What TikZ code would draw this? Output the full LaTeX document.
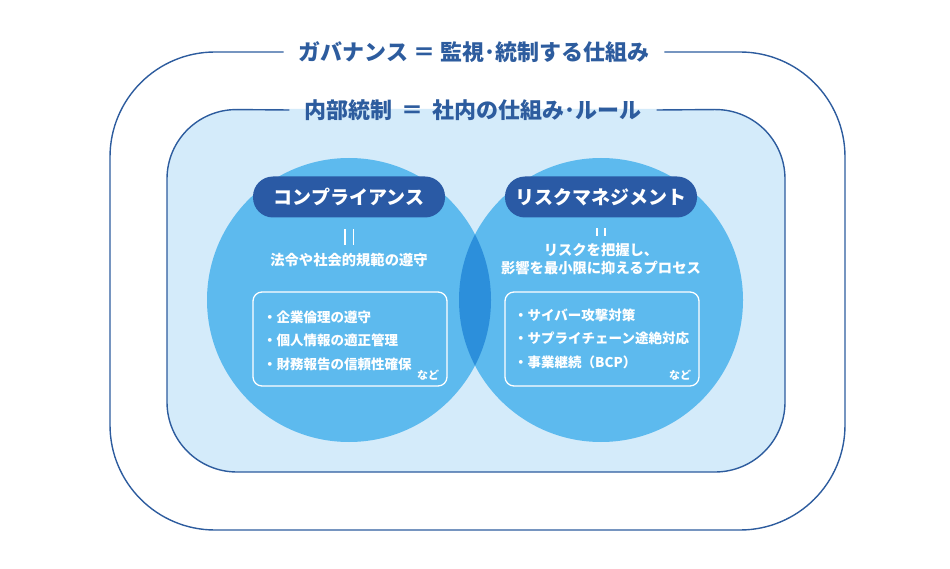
\documentclass[tikz,border=0pt]{standalone}
\usepackage{fontspec}
\setmainfont{Noto Sans CJK JP}
\usetikzlibrary{positioning}

\definecolor{lineblue}{HTML}{2D5C9E}
\definecolor{pillblue}{HTML}{2A5AA5}
\definecolor{ringblue}{HTML}{5DBAEE}
\definecolor{lensblue}{HTML}{2C8FDB}
\definecolor{paleblue}{HTML}{D4EBFA}

% vertical "equals" made of two bars
\newcommand{\vbars}[2]{\rule{1.6pt}{#1}\hspace{#2}\rule{1.6pt}{#1}}

\begin{document}
\begin{tikzpicture}[x=1pt,y=-1pt,
  frame/.style={draw=lineblue,line width=1.4pt},
  heading/.style={text=lineblue,inner sep=0pt,font=\fontsize{22}{25}\selectfont\bfseries},
  pill/.style={fill=pillblue,rounded corners=20pt,minimum width=192pt,minimum height=41pt,
    text=white,font=\fontsize{19}{22}\selectfont\bfseries},
  note/.style={text=white,align=center,font=\fontsize{14.3}{18}\selectfont\bfseries},
  listbox/.style={draw=white,line width=1.3pt,rounded corners=9pt,minimum width=194pt,minimum height=94pt},
  item/.style={text=white,anchor=west,inner sep=0pt,font=\fontsize{13.5}{16}\selectfont\bfseries},
  etc/.style={text=white,inner sep=0pt,font=\fontsize{11}{13}\selectfont\bfseries}]

  \useasboundingbox (0,0) rectangle (950,569);

  % governance frame
  \node[heading] (gov) at (474,52) {ガバナンス\hspace{5pt}＝\hspace{5pt}監視･統制する仕組み};
  \draw[frame,rounded corners=105pt] ([xshift=15pt]gov.east) -- (845,52) -- (845,530)
    -- (110,530) -- (110,52) -- ([xshift=-15pt]gov.west);

  % internal control area
  \fill[paleblue,rounded corners=70pt] (167,109) rectangle (785,472);
  \node[heading] (ic) at (473,110) {内部統制\hspace{9pt}＝\hspace{9pt}社内の仕組み･ルール};
  \draw[frame,rounded corners=70pt] ([xshift=15pt]ic.east) -- (785,109) -- (785,472)
    -- (167,472) -- (167,109) -- ([xshift=-15pt]ic.west);

  % the two circles and their overlap
  \fill[ringblue] (349,300) circle[radius=142];
  \fill[ringblue] (601,300) circle[radius=142];
  \begin{scope}
    \clip (349,300) circle[radius=142];
    \fill[lensblue] (601,300) circle[radius=142];
  \end{scope}

  % compliance
  \node[pill] (comp) at (349,197) {コンプライアンス};
  \node[text=white,inner sep=0pt] (ceq) at (349,237) {\vbars{16pt}{7pt}};
  \node[note] (cdef) at (349,260) {法令や社会的規範の遵守};
  \node[listbox] (clist) at (350,339) {};
  \node[item] (c1) at (263,317) {・企業倫理の遵守};
  \node[item] (c2) at (263,340) {・個人情報の適正管理};
  \node[item] (c3) at (263,364) {・財務報告の信頼性確保};
  \node[etc] (cetc) at (428,375) {など};

  % risk management
  \node[pill] (risk) at (601,197) {リスクマネジメント};
  \node[text=white,inner sep=0pt] (req) at (601,232) {\vbars{8pt}{6pt}};
  \node[note] (rdef) at (601,259) {リスクを把握し、\\影響を最小限に抑えるプロセス};
  \node[listbox] (rlist) at (602,339) {};
  \node[item] (r1) at (514,315) {・サイバー攻撃対策};
  \node[item] (r2) at (514,338) {・サプライチェーン途絶対応};
  \node[item] (r3) at (514,362) {・事業継続（BCP）};
  \node[etc] (retc) at (680,375) {など};

\end{tikzpicture}
\end{document}
